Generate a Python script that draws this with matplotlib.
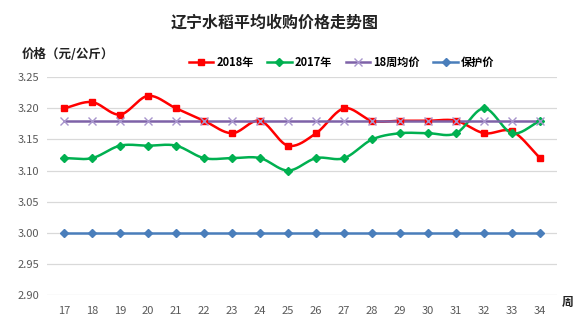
import matplotlib
matplotlib.use("Agg")
import matplotlib.pyplot as plt
import numpy as np

plt.rcParams["font.family"] = ["Noto Sans CJK SC", "DejaVu Sans"]

weeks = list(range(17, 35))
price_2018 = [3.20, 3.21, 3.19, 3.22, 3.20, 3.18, 3.16, 3.18, 3.14, 3.16,
              3.20, 3.18, 3.18, 3.18, 3.18, 3.16, 3.163, 3.12]
price_2017 = [3.12, 3.12, 3.14, 3.14, 3.14, 3.12, 3.12, 3.12, 3.10, 3.12,
              3.12, 3.15, 3.16, 3.16, 3.16, 3.20, 3.16, 3.18]
avg_18w = [3.18] * len(weeks)
floor_price = [3.00] * len(weeks)
y_ticks = [2.90, 2.95, 3.00, 3.05, 3.10, 3.15, 3.20, 3.25]


def smooth(x, y, n=20):
    # Catmull-Rom curve through the points, like Excel's smoothed line
    x = np.asarray(x, float)
    y = np.asarray(y, float)
    px = np.concatenate([[2 * x[0] - x[1]], x, [2 * x[-1] - x[-2]]])
    py = np.concatenate([[2 * y[0] - y[1]], y, [2 * y[-1] - y[-2]]])
    xs, ys = [], []
    t = np.linspace(0, 1, n, endpoint=False)
    for i in range(1, len(px) - 2):
        for p, out in ((px, xs), (py, ys)):
            p0, p1, p2, p3 = p[i - 1], p[i], p[i + 1], p[i + 2]
            out.extend(0.5 * (2 * p1 + (-p0 + p2) * t
                              + (2 * p0 - 5 * p1 + 4 * p2 - p3) * t ** 2
                              + (-p0 + 3 * p1 - 3 * p2 + p3) * t ** 3))
    xs.append(x[-1])
    ys.append(y[-1])
    return xs, ys


fig = plt.figure(figsize=(5.76, 3.3), dpi=100)
ax = fig.add_axes([0.082, 0.106, 0.885, 0.66])

series = [
    (price_2018, "2018年", "#ff0000", "s", 5, "#ff0000"),
    (price_2017, "2017年", "#00b050", "D", 4.5, "#00b050"),
    (avg_18w, "18周均价", "#7e62a8", "x", 6, "#a895cc"),
    (floor_price, "保护价", "#4a7ebb", "D", 4, "#4a7ebb"),
]
for vals, label, color, marker, ms, mcolor in series:
    sx, sy = smooth(weeks, vals)
    ax.plot(sx, sy, color=color, lw=1.8, zorder=3)
    ax.plot(weeks, vals, ls="none", marker=marker, ms=ms, color=mcolor,
            mew=1.0, zorder=4)
    ax.plot([], [], color=color, lw=1.8, marker=marker, ms=ms,
            markerfacecolor=mcolor, markeredgecolor=mcolor, label=label)

ax.set_xlim(16.4, 34.6)
ax.set_ylim(2.90, 3.25)
ax.set_yticks(y_ticks)
ax.set_yticklabels([f"{v:.2f}" for v in y_ticks])
ax.set_xticks(weeks)
ax.grid(axis="y", color="#d9d9d9", lw=0.9)
ax.set_axisbelow(True)
for s in ax.spines.values():
    s.set_visible(False)
ax.tick_params(length=0, labelsize=8, colors="#595959", pad=6)
ax.tick_params(axis="x", pad=8)

fig.text(0.476, 0.93, "辽宁水稻平均收购价格走势图", ha="center", va="center",
         fontsize=11.5, fontweight="bold", color="#222222")
fig.text(0.038, 0.835, "价格（元/公斤）", ha="left", va="center",
         fontsize=9, fontweight="bold", color="#222222")
fig.text(0.985, 0.083, "周", ha="center", va="center",
         fontsize=8.5, fontweight="bold", color="#222222")

fig.legend(loc="center", bbox_to_anchor=(0.593, 0.81), ncol=4, frameon=False,
           handlelength=2.2, handletextpad=0.3, columnspacing=1.2,
           prop={"weight": "bold", "size": 8})

fig.savefig("out.png", dpi=100)
